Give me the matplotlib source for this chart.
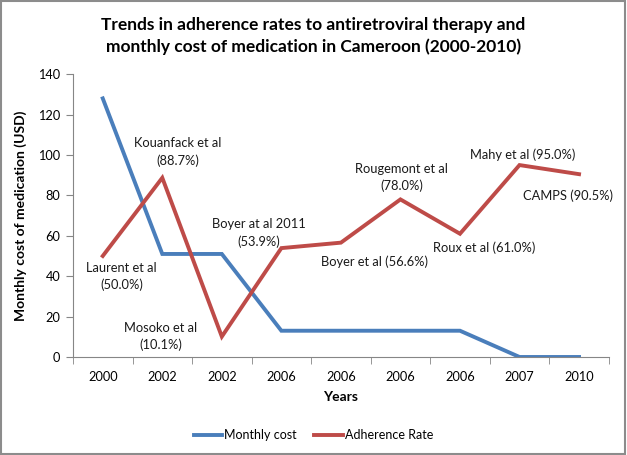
import matplotlib
matplotlib.use("Agg")
import matplotlib.pyplot as plt
from matplotlib.patches import Rectangle
from matplotlib.ticker import FixedLocator, NullFormatter

plt.rcParams['font.family'] = ['Lato', 'DejaVu Sans']

years = ["2000", "2002", "2002", "2006", "2006", "2006", "2006", "2007", "2010"]
monthly_cost = [128, 51, 51, 13, 13, 13, 13, 0, 0]
adherence = [50.0, 88.7, 10.1, 53.9, 56.6, 78.0, 61.0, 95.0, 90.5]
study_labels = ["Laurent et al\n(50.0%)", "Kouanfack et al\n(88.7%)", "Mosoko et al\n(10.1%)",
                "Boyer at al 2011\n(53.9%)", "Boyer et al (56.6%)", "Rougemont et al\n(78.0%)",
                "Roux et al (61.0%)", "Mahy et al (95.0%)", "CAMPS (90.5%)"]
label_pos = [(0.32, 40), (1.26, 101.5), (0.97, 10), (2.62, 61.4), (4.56, 47),
             (5.02, 89), (6.41, 54), (7.05, 100), (7.82, 79.7)]

fig = plt.figure(figsize=(6.27, 4.55), dpi=100)
ax = fig.add_axes([0.1164, 0.2154, 0.971 - 0.1164, 0.837 - 0.2154])

x = list(range(len(years)))
ax.plot(x, monthly_cost, color="#4A7EBB", lw=2.8, label="Monthly cost", solid_joinstyle="miter")
ax.plot(x, adherence, color="#BE4B48", lw=2.8, label="Adherence Rate", solid_joinstyle="miter")

for txt, (px, py) in zip(study_labels, label_pos):
    ax.text(px, py, txt, ha="center", va="center", fontsize=9.3, color="#1a1a1a", linespacing=1.45)

ax.set_xlim(-0.5, len(years) - 0.5)
ax.set_ylim(0, 140)
ax.set_yticks(range(0, 141, 20))
ax.set_xticks(x)
ax.set_xticklabels(years)
ax.xaxis.set_minor_locator(FixedLocator([i - 0.5 for i in range(len(years) + 1)]))
ax.xaxis.set_minor_formatter(NullFormatter())
ax.tick_params(axis="x", which="major", length=0, pad=10, labelsize=9.2)
ax.tick_params(axis="x", which="minor", length=5, color="#868686", direction="out")
ax.tick_params(axis="y", length=5, color="#868686", direction="out", labelsize=9.2, pad=4)

for s in ["top", "right"]:
    ax.spines[s].set_visible(False)
for s in ["left", "bottom"]:
    ax.spines[s].set_color("#868686")

ax.set_xlabel("Years", fontweight="bold", fontsize=10, labelpad=6)
ax.set_ylabel("Monthly cost of medication (USD)", fontweight="bold", fontsize=10, labelpad=8)

fig.text(0.5, 1 - 25 / 455, "Trends in adherence rates to antiretroviral therapy and",
         ha="center", va="center", fontsize=12.5, fontweight="bold")
fig.text(0.5, 1 - 47 / 455, "monthly cost of medication in Cameroon (2000-2010)",
         ha="center", va="center", fontsize=12.5, fontweight="bold")

fig.legend(loc="center", bbox_to_anchor=(0.5, 1 - 435 / 455), ncol=2, frameon=False,
           fontsize=9, handlelength=2.3, columnspacing=1.4, handletextpad=0.15)

fig.patches.append(Rectangle((0.002, 0.003), 0.995, 0.994, transform=fig.transFigure,
                             fill=False, edgecolor="#8c8c8c", lw=1.5))

fig.savefig("out.png", dpi=100)
